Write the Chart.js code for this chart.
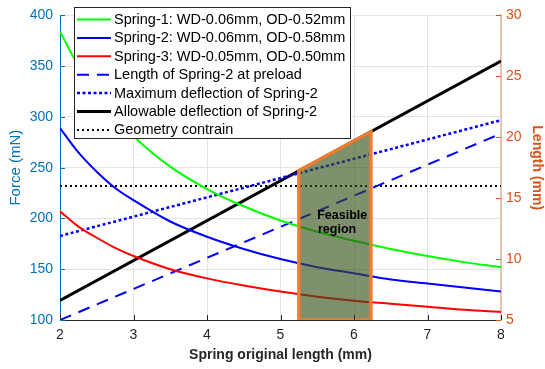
<!DOCTYPE html>
<html>
<head>
<meta charset="utf-8">
<script src="https://cdn.jsdelivr.net/npm/chart.js@4.4.1/dist/chart.umd.min.js"></script>
<style>
  body { margin: 0; background: #fff; }
  canvas { display: block; }
</style>
</head>
<body>
<canvas id="myChart" width="545" height="369"></canvas>
<script>
// spring original length (mm)
const springX = [2, 2.25, 2.5, 2.75, 3, 3.5, 4, 4.5, 5, 5.5, 6, 6.5, 7, 7.5, 8];
// force (mN)
const spring1 = [384, 350, 322, 300, 281, 251, 229, 212, 198, 187, 178, 170, 163, 157, 152];
const spring2 = [289, 265, 246, 230, 218, 197, 182, 170, 160, 152, 146, 140, 136, 132, 128];
const spring3 = [207, 192, 181, 171, 163, 150, 141, 134, 128, 123, 119, 116, 113, 110, 108];

// lengths (mm), right axis
const lineX = [2, 8];
const preloadLen = [5.0, 20.3];
const maxDeflection = [11.9, 21.4];
const allowDeflection = [6.6, 26.25];
const geometryLimit = [16.0, 16.0];

// feasible region outline
const regionX = [5.25, 5.25, 6.23, 6.23, 5.25];
const regionY = [5, 17.25, 20.45, 5, 5];

const xTicks = [2, 3, 4, 5, 6, 7, 8];
const forceTicks = [100, 150, 200, 250, 300, 350, 400];
const lengthTicks = [5, 10, 15, 20, 25, 30];

function pts(xs, ys) {
    return xs.map((x, i) => ({ x: x, y: ys[i] }));
}

const FONT = 'Liberation Sans, Arial, Helvetica, sans-serif';
const BLUE_AX = '#0072BD';
const ORANGE_AX = '#D95319';

const overlayPlugin = {
    id: 'overlay',
    afterDatasetsDraw(chart) {
        const ctx = chart.ctx;
        const a = chart.chartArea;
        const xs = chart.scales.x, ys = chart.scales.y, y1 = chart.scales.y1;
        ctx.save();
        // inward tick marks
        ctx.lineWidth = 1;
        ctx.strokeStyle = BLUE_AX;
        forceTicks.forEach(v => {
            const p = Math.round(ys.getPixelForValue(v)) + 0.5;
            ctx.beginPath(); ctx.moveTo(a.left, p); ctx.lineTo(a.left + 5, p); ctx.stroke();
        });
        ctx.strokeStyle = ORANGE_AX;
        lengthTicks.forEach(v => {
            const p = Math.round(y1.getPixelForValue(v)) + 0.5;
            ctx.beginPath(); ctx.moveTo(a.right, p); ctx.lineTo(a.right - 5, p); ctx.stroke();
        });
        ctx.strokeStyle = '#262626';
        xTicks.forEach(v => {
            const p = Math.round(xs.getPixelForValue(v)) + 0.5;
            ctx.beginPath(); ctx.moveTo(p, a.bottom); ctx.lineTo(p, a.bottom - 5); ctx.stroke();
        });

        // region label
        ctx.fillStyle = '#000';
        ctx.font = 'bold 12.5px ' + FONT;
        ctx.textAlign = 'center';
        ctx.textBaseline = 'middle';
        ctx.fillText('Feasible', xs.getPixelForValue(5.84), y1.getPixelForValue(13.6));
        ctx.fillText('region', xs.getPixelForValue(5.77), y1.getPixelForValue(12.4));

        // legend box
        const bx = 74, by = 7, bw = 276, bh = 131;
        ctx.fillStyle = '#fff';
        ctx.fillRect(bx, by, bw, bh);
        ctx.strokeStyle = '#262626';
        ctx.lineWidth = 1;
        ctx.strokeRect(bx + 0.5, by + 0.5, bw, bh);
        ctx.font = '14.5px ' + FONT;
        ctx.textAlign = 'left';
        ctx.textBaseline = 'middle';
        let row = 0;
        chart.data.datasets.forEach(ds => {
            if (!ds.inLegend) return;
            const yy = 19.5 + row * 18.4;
            ctx.save();
            ctx.strokeStyle = ds.borderColor;
            ctx.lineWidth = ds.borderWidth;
            ctx.setLineDash(ds.borderDash || []);
            ctx.beginPath(); ctx.moveTo(77, yy); ctx.lineTo(111, yy); ctx.stroke();
            ctx.restore();
            ctx.fillStyle = '#000';
            ctx.fillText(ds.label, 114, yy + 0.5);
            row++;
        });
        ctx.restore();
    }
};

const ctx = document.getElementById('myChart');
new Chart(ctx, {
    type: 'line',
    data: {
        datasets: [
            {
                label: 'region outline',
                data: pts(regionX, regionY),
                yAxisID: 'y1',
                borderColor: '#ED7D31',
                borderWidth: 3.5,
                fill: false,
                pointRadius: 0,
                tension: 0
            },
            {
                label: 'region',
                data: pts(regionX.slice(0, 4), regionY.slice(0, 4)),
                yAxisID: 'y1',
                borderWidth: 0,
                borderColor: 'rgba(0,0,0,0)',
                backgroundColor: 'rgba(52,79,24,0.63)',
                fill: 'start',
                pointRadius: 0,
                tension: 0
            },
            {
                label: 'Spring-1: WD-0.06mm, OD-0.52mm',
                inLegend: true,
                data: pts(springX, spring1),
                yAxisID: 'y',
                borderColor: '#00FF00',
                borderWidth: 2,
                pointRadius: 0,
                cubicInterpolationMode: 'monotone'
            },
            {
                label: 'Spring-2: WD-0.06mm, OD-0.58mm',
                inLegend: true,
                data: pts(springX, spring2),
                yAxisID: 'y',
                borderColor: '#0000FF',
                borderWidth: 2,
                pointRadius: 0,
                cubicInterpolationMode: 'monotone'
            },
            {
                label: 'Spring-3: WD-0.05mm, OD-0.50mm',
                inLegend: true,
                data: pts(springX, spring3),
                yAxisID: 'y',
                borderColor: '#FF0000',
                borderWidth: 2,
                pointRadius: 0,
                cubicInterpolationMode: 'monotone'
            },
            {
                label: 'Length of Spring-2 at preload',
                inLegend: true,
                data: pts(lineX, preloadLen),
                yAxisID: 'y1',
                borderColor: '#0000FF',
                borderWidth: 2,
                borderDash: [12, 8],
                pointRadius: 0
            },
            {
                label: 'Maximum deflection of Spring-2',
                inLegend: true,
                data: pts(lineX, maxDeflection),
                yAxisID: 'y1',
                borderColor: '#0000FF',
                borderWidth: 2.5,
                borderDash: [3, 2.5],
                pointRadius: 0
            },
            {
                label: 'Allowable deflection of Spring-2',
                inLegend: true,
                data: pts(lineX, allowDeflection),
                yAxisID: 'y1',
                borderColor: '#000000',
                borderWidth: 3,
                pointRadius: 0
            },
            {
                label: 'Geometry contrain',
                inLegend: true,
                data: pts(lineX, geometryLimit),
                yAxisID: 'y1',
                borderColor: '#000000',
                borderWidth: 2,
                borderDash: [2, 3],
                pointRadius: 0
            }
        ]
    },
    options: {
        responsive: false,
        animation: false,
        layout: { padding: { top: 12, left: 0, right: 0, bottom: 0 } },
        plugins: {
            legend: { display: false },
            tooltip: { enabled: false }
        },
        scales: {
            x: {
                type: 'linear',
                min: 2, max: 8,
                afterFit: s => { s.height = 49; },
                afterBuildTicks: s => { s.ticks = xTicks.map(v => ({ value: v })); },
                grid: { color: '#e3e3e3', drawTicks: false },
                border: { color: '#262626', width: 1 },
                ticks: { color: '#262626', padding: 7, font: { family: FONT, size: 14 } },
                title: {
                    display: true,
                    text: 'Spring original length (mm)',
                    color: '#262626',
                    font: { family: FONT, size: 14, weight: 'bold' },
                    padding: { top: 5, bottom: 5 }
                }
            },
            y: {
                position: 'left',
                min: 100, max: 400,
                afterFit: s => { s.width = 60; },
                afterBuildTicks: s => { s.ticks = forceTicks.map(v => ({ value: v })); },
                grid: { color: '#e3e3e3', drawTicks: false },
                border: { color: BLUE_AX, width: 1 },
                ticks: { color: BLUE_AX, padding: 7, font: { family: FONT, size: 14 } },
                title: {
                    display: true,
                    text: 'Force (mN)',
                    color: BLUE_AX,
                    font: { family: FONT, size: 15 },
                    padding: { top: 7, bottom: 0 }
                }
            },
            y1: {
                position: 'right',
                min: 5, max: 30,
                afterFit: s => { s.width = 44; },
                afterBuildTicks: s => { s.ticks = lengthTicks.map(v => ({ value: v })); },
                grid: { display: false, drawTicks: false },
                border: { color: '#e8c3b3', width: 2 },
                ticks: { color: ORANGE_AX, padding: 5, font: { family: FONT, size: 14 } },
                title: {
                    display: true,
                    text: 'Length (mm)',
                    color: ORANGE_AX,
                    font: { family: FONT, size: 14, weight: 'bold' },
                    padding: { top: 0, bottom: 0 }
                }
            }
        }
    },
    plugins: [overlayPlugin]
});
</script>
</body>
</html>
